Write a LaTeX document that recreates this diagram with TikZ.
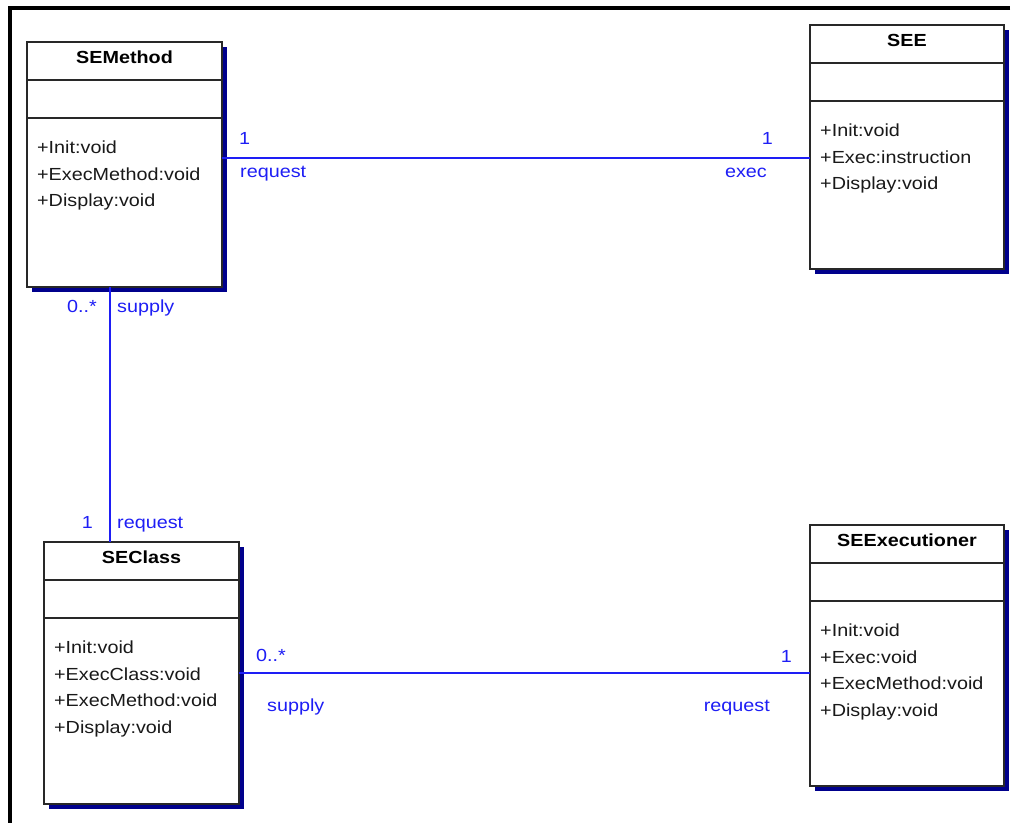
\documentclass[tikz,border=0pt]{standalone}
\usepackage{fontspec}
\setmainfont[FakeStretch=1.13]{Liberation Sans}
\definecolor{assocblue}{RGB}{30,30,245}
\definecolor{shadownavy}{RGB}{0,0,140}
\definecolor{edgegray}{RGB}{40,40,40}

% UML class box: name, left, top, right, bottom, title, operations
\newcommand\umlclass[7]{%
  \fill[shadownavy] (#2+4.5,#3+5) rectangle (#4+4.5,#5+4.5);
  \node[classbox, minimum width={(#4-#2)*1pt}, minimum height={(#5-#3)*1pt}]
    (#1) at ({(#2+#4)/2},{(#3+#5)/2}) {};
  \draw[divider] (#2,#3+38) -- (#4,#3+38);
  \draw[divider] (#2,#3+76) -- (#4,#3+76);
  \node[titletext, anchor=base] (#1-t) at ({(#2+#4)/2},#3+21) {#6};
  \foreach \op [count=\k] in {#7} {
    \node[optext, anchor=base west] (#1-o\k) at (#2+10,{#3+111.5+(\k-1)*26.7}) {\op};
  }
}

\begin{document}
\begin{tikzpicture}[x=1pt,y=-1pt,
  classbox/.style={rectangle, draw=edgegray, line width=1.5pt, fill=white,
    inner sep=0pt, outer sep=0pt},
  divider/.style={draw=edgegray, line width=1.3pt},
  titletext/.style={inner sep=0pt, font=\fontsize{17.5}{20}\selectfont\bfseries},
  optext/.style={inner sep=0pt, font=\fontsize{17.5}{20}\selectfont, text=black!90},
  assoc/.style={draw=assocblue, line width=1.5pt},
  role/.style={inner sep=0pt, font=\fontsize{17.5}{20}\selectfont, text=assocblue}]

% canvas and outer frame
\fill[white] (0,0) rectangle (1019,823);
\useasboundingbox (0,0) rectangle (1019,823);
\draw[line width=3.5pt] (1010,8) -- (10,8) -- (10,823);

% classes
\umlclass{semethod}{27}{42}{222}{287}{SEMethod}{+Init:void,+ExecMethod:void,+Display:void}
\umlclass{see}{810}{25}{1004}{269}{SEE}{+Init:void,+Exec:instruction,+Display:void}
\umlclass{seclass}{44}{542}{239}{804}{SEClass}{+Init:void,+ExecClass:void,+ExecMethod:void,+Display:void}
\umlclass{seexec}{810}{525}{1004}{786}{SEExecutioner}{+Init:void,+Exec:void,+ExecMethod:void,+Display:void}

% associations
\draw[assoc] ([yshift=6.5pt]semethod.east) -- ([yshift=-11pt]see.west);
\draw[assoc] ([xshift=-14.5pt]semethod.south) -- ([xshift=-31.5pt]seclass.north);
\draw[assoc] (seclass.east) -- ([yshift=-17.5pt]seexec.west);

% multiplicities and role names
\node[role, anchor=base west] (m1) at (239,144) {1};
\node[role, anchor=base west] (r1) at (240,177) {request};
\node[role, anchor=base east] (m2) at (773,144) {1};
\node[role, anchor=base east] (r2) at (767,177) {exec};

\node[role, anchor=base east] (m3) at (97,312) {0..*};
\node[role, anchor=base west] (r3) at (117,312) {supply};
\node[role, anchor=base east] (m4) at (93,528) {1};
\node[role, anchor=base west] (r4) at (117,528) {request};

\node[role, anchor=base west] (m5) at (256,661) {0..*};
\node[role, anchor=base west] (r5) at (267,711) {supply};
\node[role, anchor=base east] (m6) at (792,662) {1};
\node[role, anchor=base east] (r6) at (770,711) {request};
\end{tikzpicture}
\end{document}
